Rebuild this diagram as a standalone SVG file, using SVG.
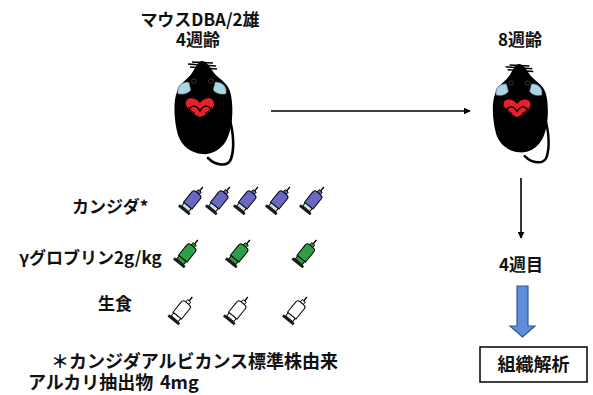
<svg xmlns="http://www.w3.org/2000/svg" xmlns:xlink="http://www.w3.org/1999/xlink" width="593" height="395" viewBox="0 0 593 395">
  <style>
    text { font-family: "Noto Sans CJK JP", "Noto Sans", sans-serif; font-weight: bold; fill: #111; }
    .lbl { font-size: 17px; }
    .note { font-size: 18px; }
    .conn { stroke: #000; stroke-width: 1.6; fill: none; }
  </style>
  <defs>
    <marker id="head" viewBox="0 0 10 10" refX="9" refY="5" markerWidth="7" markerHeight="7" markerUnits="userSpaceOnUse" orient="auto">
      <path d="M0,0 L10,5 L0,10 Z" fill="#000"/>
    </marker>
    <!-- mouse seen from above, nose at origin -->
    <g id="mouse">
      <path d="M27,55 C31,70 33,86 29,98 C26,106 14,105 6,97" fill="none" stroke="#000" stroke-width="2.6" stroke-linecap="round"/>
      <path d="M0,0 C4,0 8,6 12,12 C18,19 27,22 29,34 C32,50 30,70 24,80 C18,90 8,94 0,93 C-10,92 -20,86 -24,74 C-28,60 -29,40 -25,31 C-21,21 -14,18 -10,12 C-6,6 -4,0 0,0 Z" fill="#000"/>
      <path d="M-14,3 L14,5 M-12,6 L15,8 M-10,1 L11,2" stroke="#000" stroke-width="1.6"/>
      <ellipse cx="-8" cy="20" rx="2.5" ry="2.2" fill="none" stroke="#444" stroke-width="0.8"/>
      <ellipse cx="9" cy="20" rx="2.5" ry="2.2" fill="none" stroke="#444" stroke-width="0.8"/>
      <path d="M-13,21 C-20,20 -26,26 -24,33 C-19,34 -14,33 -11,29 Z" fill="#A9D6E2" stroke="#333" stroke-width="0.6"/>
      <path d="M13,21 C20,20 26,26 24,33 C19,34 14,33 11,29 Z" fill="#A9D6E2" stroke="#333" stroke-width="0.6"/>
      <path d="M-2,42 C-7,35 -18,36 -16,44 C-14,50 -6,54 -2,56 C2,54 11,50 12,44 C13,36 3,35 -2,42 Z" fill="#E8202A"/>
      <path d="M-13,50 C-12,44 -6,43 -2,50 C2,43 8,44 9,50" fill="none" stroke="#000" stroke-width="1.4"/>
      <path d="M-14,46 C-12,49 -10,51 -7,52 M10,46 C8,49 6,51 3,52" fill="none" stroke="#000" stroke-width="1"/>
    </g>
    <!-- syringe, needle up; barrel uses color, plunger inherits fill -->
    <g id="syringe">
      <line x1="0" y1="-18" x2="0" y2="-12" stroke="#000" stroke-width="1.4"/>
      <rect x="-2" y="-13" width="4" height="3" fill="currentColor" stroke="#000" stroke-width="0.9"/>
      <path d="M-5.5,6 L-5.5,-7 Q-5.5,-10 -2.5,-10 L2.5,-10 Q5.5,-10 5.5,-7 L5.5,6 Z" fill="currentColor" stroke="#000" stroke-width="1"/>
      <rect x="-4.5" y="6" width="9" height="4" stroke="#000" stroke-width="1"/>
      <rect x="-7" y="10" width="14" height="2.8" fill="#1a1a1a"/>
    </g>
  </defs>

  <!-- titles -->
  <g id="title-4w">
    <text class="lbl" x="200" y="26" text-anchor="middle">マウスDBA/2雄</text>
    <text class="lbl" x="198" y="46" text-anchor="middle">4週齢</text>
  </g>
  <g id="title-8w">
    <text class="lbl" x="520" y="46" text-anchor="middle">8週齢</text>
  </g>

  <g id="mouse-4w"><use xlink:href="#mouse" transform="translate(202,61)"/></g>
  <g id="mouse-8w"><use xlink:href="#mouse" transform="translate(519,64) scale(0.95)"/></g>

  <!-- treatment rows -->
  <g id="row-candida">
    <text class="lbl" x="72" y="213">カンジダ*</text>
    <g color="#6B68C4" fill="#BFE4E4">
      <use xlink:href="#syringe" transform="translate(191.5,201) rotate(39)"/>
      <use xlink:href="#syringe" transform="translate(218.5,201) rotate(39)"/>
      <use xlink:href="#syringe" transform="translate(246.5,201) rotate(39)"/>
      <use xlink:href="#syringe" transform="translate(278.5,201) rotate(39)"/>
      <use xlink:href="#syringe" transform="translate(312.5,201) rotate(39)"/>
    </g>
  </g>
  <g id="row-globulin">
    <text class="lbl" x="19" y="264">γグロブリン2g/kg</text>
    <g color="#2E9E48" fill="#2E9E48">
      <use xlink:href="#syringe" transform="translate(186.5,254) rotate(39)"/>
      <use xlink:href="#syringe" transform="translate(238.5,254) rotate(39)"/>
      <use xlink:href="#syringe" transform="translate(305,254) rotate(39)"/>
    </g>
  </g>
  <g id="row-saline">
    <text class="lbl" x="98" y="310">生食</text>
    <g color="#fff" fill="#fff">
      <use xlink:href="#syringe" transform="translate(181,311) rotate(39)"/>
      <use xlink:href="#syringe" transform="translate(236.5,311) rotate(39)"/>
      <use xlink:href="#syringe" transform="translate(295.5,311) rotate(39)"/>
    </g>
  </g>

  <g id="period-4w">
    <text class="lbl" x="521" y="271" text-anchor="middle">4週目</text>
  </g>

  <g id="analysis">
    <rect x="480" y="347" width="107" height="35" fill="#fff" stroke="#000" stroke-width="1.5"/>
    <text class="lbl" x="533.5" y="371" text-anchor="middle" style="font-size:18px">組織解析</text>
  </g>

  <g id="footnote">
    <text class="note" x="51" y="368">＊カンジダアルビカンス標準株由来</text>
    <text class="note" x="28" y="389">アルカリ抽出物<tspan x="160">4mg</tspan></text>
  </g>

  <!-- connectors -->
  <g id="connectors">
    <line class="conn" x1="271" y1="111" x2="470" y2="111" marker-end="url(#head)"/>
    <line class="conn" x1="521" y1="178" x2="521" y2="238" marker-end="url(#head)"/>
    <path d="M517,286 L528,286 L528,326 L535,326 L522.5,337 L510,326 L517,326 Z" fill="#5D8ED6" stroke="#2F5597" stroke-width="1.2"/>
  </g>
</svg>
